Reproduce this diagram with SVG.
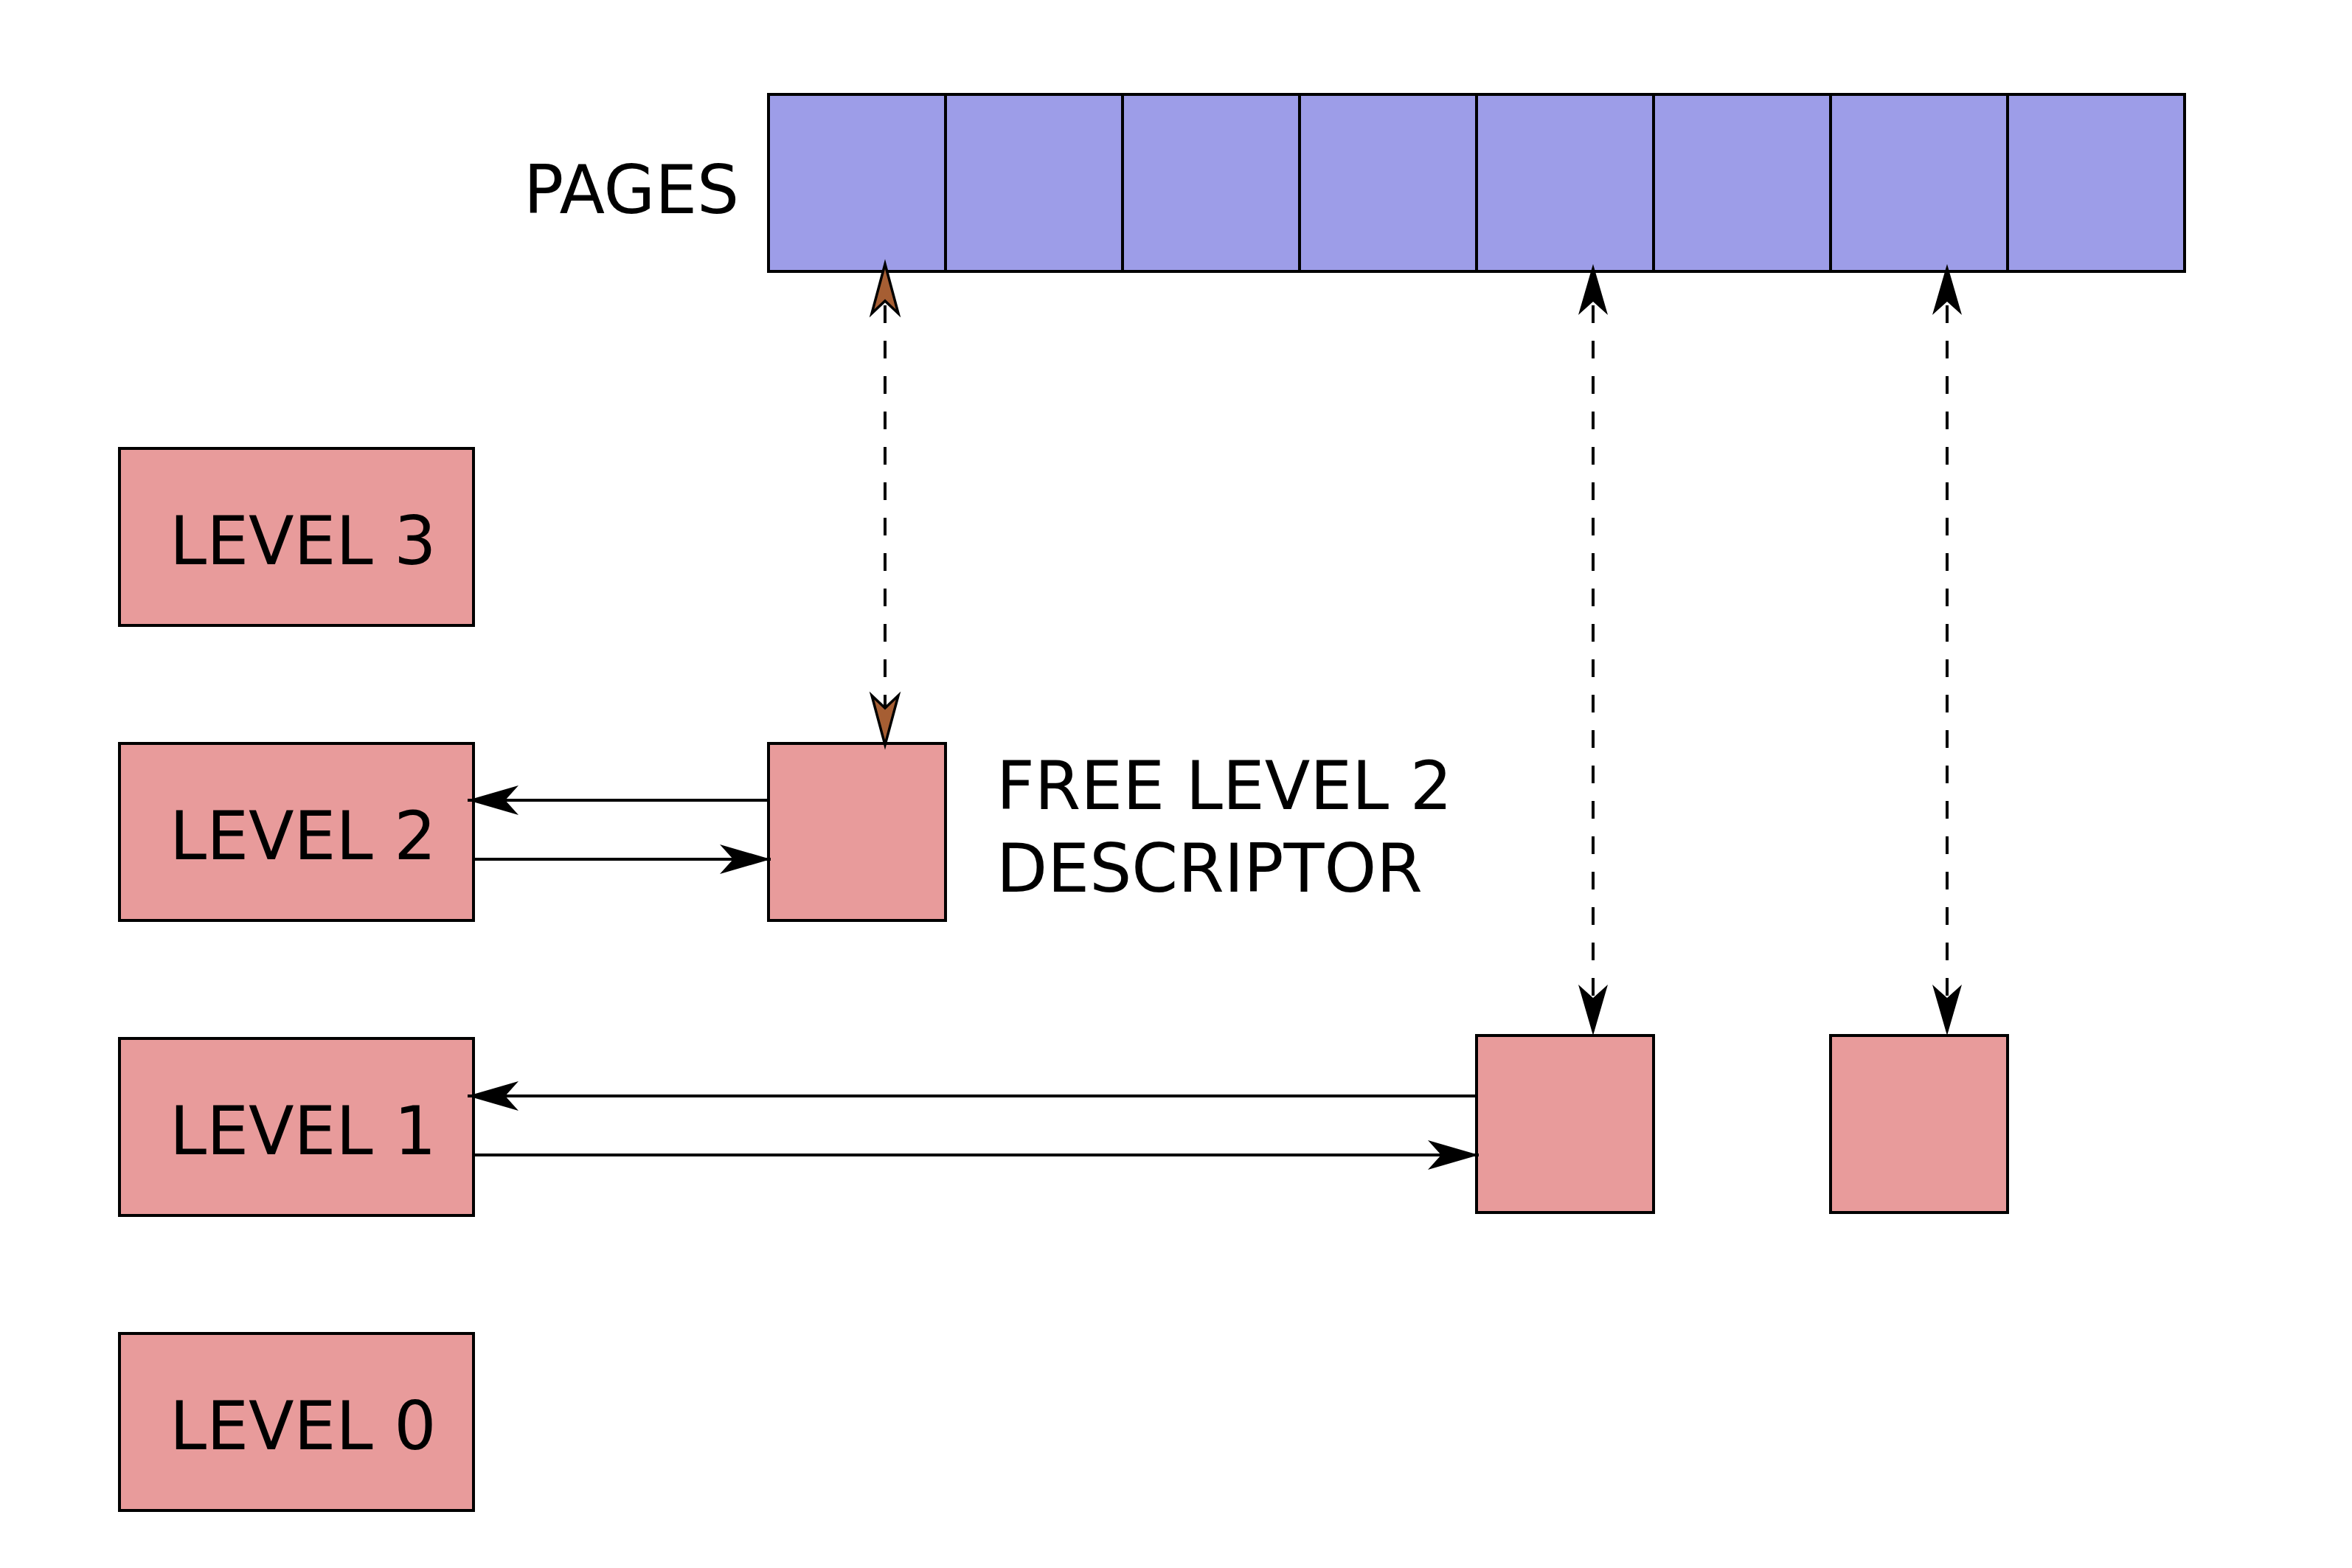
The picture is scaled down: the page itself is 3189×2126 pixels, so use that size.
<svg xmlns="http://www.w3.org/2000/svg" width="3189" height="2126" viewBox="0 0 3189 2126">
  <style>
    .page { fill: #9d9de8; stroke: #000; stroke-width: 4; }
    .box { fill: #e89b9b; stroke: #000; stroke-width: 4; }
    .lbl { font-family: "DejaVu Sans", "Liberation Sans", sans-serif; font-size: 90px; fill: #000; }
    .dash { fill: none; stroke: #000; stroke-width: 4; stroke-dasharray: 24 24; stroke-dashoffset: 40; }
    .solid { fill: none; stroke: #000; stroke-width: 4; }
  </style>
  <defs>
    <marker id="ahBlack" markerUnits="userSpaceOnUse" orient="auto-start-reverse" markerWidth="90" markerHeight="60" viewBox="-80 -30 90 60" refX="0" refY="0" overflow="visible">
      <path d="M0,0 L-69,-20 L-51,0 L-69,20 Z" fill="#000"/>
    </marker>
    <marker id="ahBrown" markerUnits="userSpaceOnUse" orient="auto-start-reverse" markerWidth="90" markerHeight="60" viewBox="-80 -30 90 60" refX="0" refY="0" overflow="visible">
      <path d="M0,0 L-67,-18 L-50,0 L-67,18 Z" fill="#a65e33" stroke="#000" stroke-width="3.5" stroke-linejoin="miter"/>
    </marker>
  </defs>
  <rect width="3189" height="2126" fill="#fff"/>

  <g id="pages">
    <rect class="page" x="1042" y="128" width="240" height="240"/>
    <rect class="page" x="1282" y="128" width="240" height="240"/>
    <rect class="page" x="1522" y="128" width="240" height="240"/>
    <rect class="page" x="1762" y="128" width="240" height="240"/>
    <rect class="page" x="2002" y="128" width="240" height="240"/>
    <rect class="page" x="2242" y="128" width="240" height="240"/>
    <rect class="page" x="2482" y="128" width="240" height="240"/>
    <rect class="page" x="2722" y="128" width="240" height="240"/>
    <text class="lbl" x="710" y="289">PAGES</text>
  </g>

  <g id="level3">
    <rect class="box" x="162" y="608" width="480" height="240"/>
    <text class="lbl" x="230" y="765">LEVEL 3</text>
  </g>
  <g id="level2">
    <rect class="box" x="162" y="1008" width="480" height="240"/>
    <text class="lbl" x="230" y="1165">LEVEL 2</text>
  </g>
  <g id="level1">
    <rect class="box" x="162" y="1408" width="480" height="240"/>
    <text class="lbl" x="230" y="1565">LEVEL 1</text>
  </g>
  <g id="level0">
    <rect class="box" x="162" y="1808" width="480" height="240"/>
    <text class="lbl" x="230" y="1965">LEVEL 0</text>
  </g>

  <g id="free-level2-descriptor">
    <rect class="box" x="1042" y="1008" width="240" height="240"/>
    <text class="lbl" x="1351" y="1097">FREE LEVEL 2</text>
    <text class="lbl" x="1351" y="1209">DESCRIPTOR</text>
  </g>
  <g id="level1-descriptor-a">
    <rect class="box" x="2002" y="1404" width="240" height="240"/>
  </g>
  <g id="level1-descriptor-b">
    <rect class="box" x="2482" y="1404" width="240" height="240"/>
  </g>

  <g id="connectors">
    <path class="dash" d="M1200,358 L1200,1010" marker-start="url(#ahBrown)" marker-end="url(#ahBrown)"/>
    <path class="dash" d="M2160,358 L2160,1404" marker-start="url(#ahBlack)" marker-end="url(#ahBlack)"/>
    <path class="dash" d="M2640,358 L2640,1404" marker-start="url(#ahBlack)" marker-end="url(#ahBlack)"/>
    <path class="solid" d="M1042,1085 L634,1085" marker-end="url(#ahBlack)"/>
    <path class="solid" d="M642,1165 L1045,1165" marker-end="url(#ahBlack)"/>
    <path class="solid" d="M2002,1486 L634,1486" marker-end="url(#ahBlack)"/>
    <path class="solid" d="M642,1566 L2005,1566" marker-end="url(#ahBlack)"/>
  </g>
</svg>
